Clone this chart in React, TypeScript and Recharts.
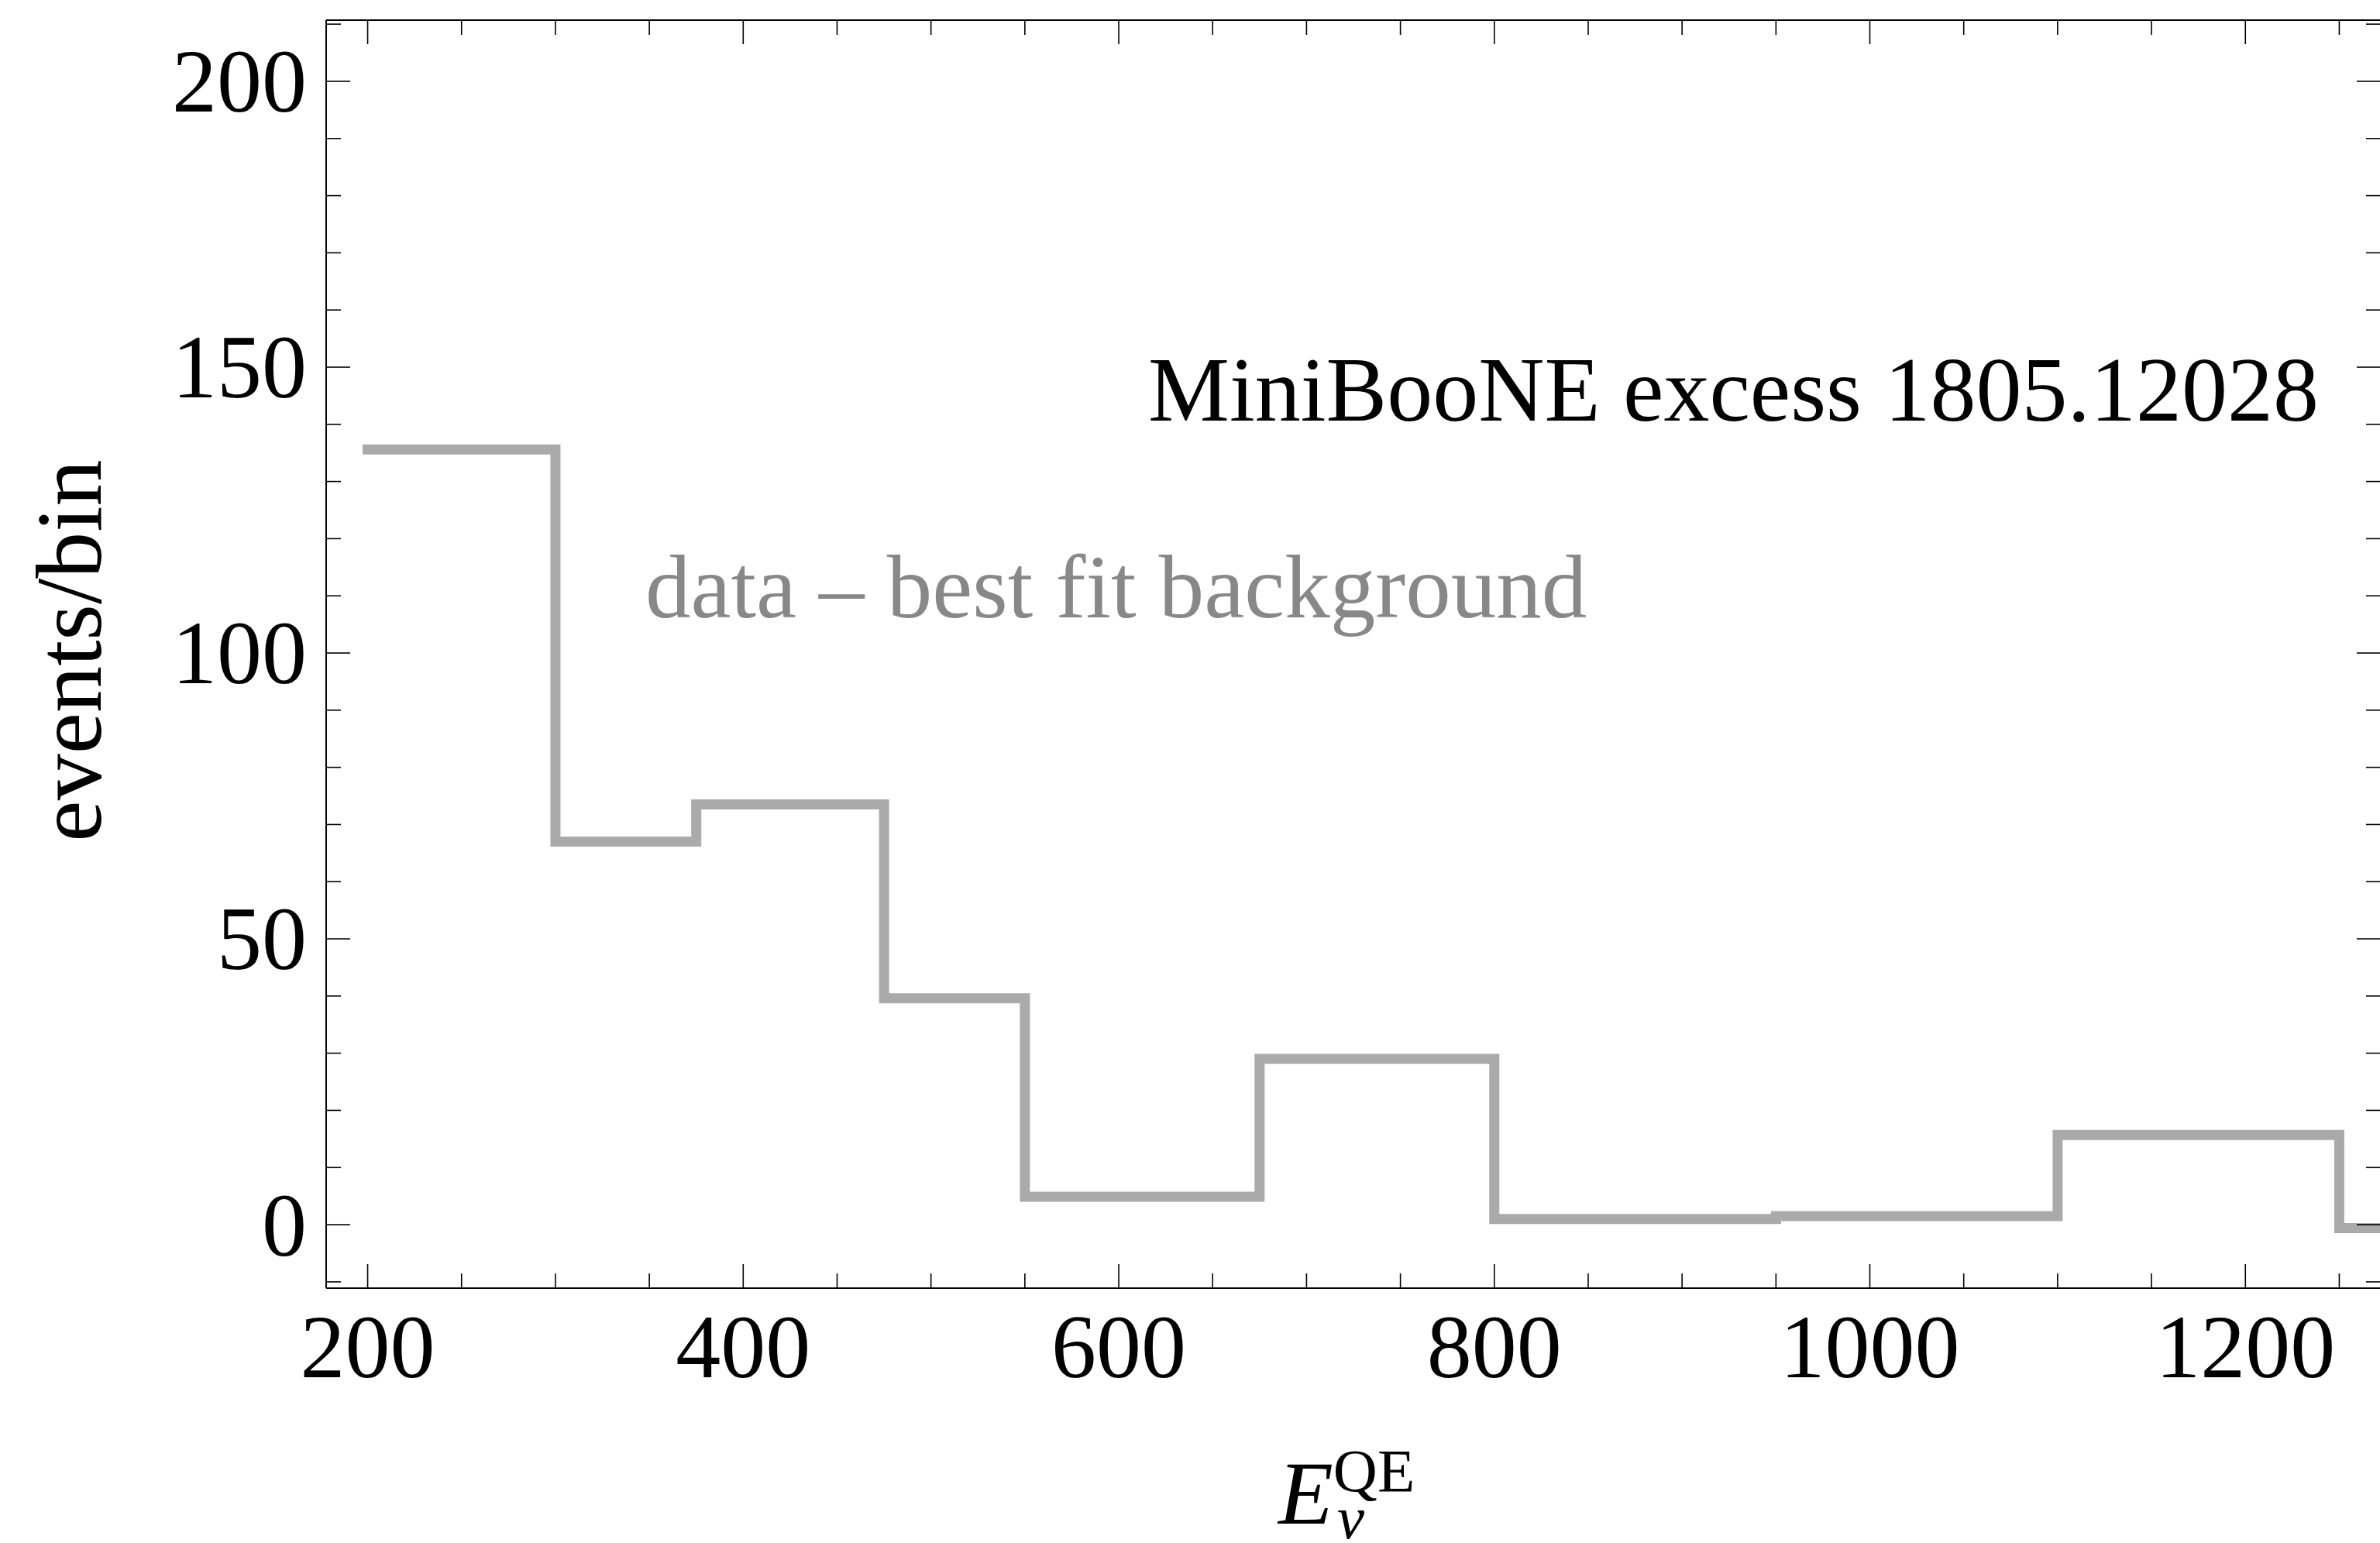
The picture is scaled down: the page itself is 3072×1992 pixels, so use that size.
import { Customized, Line, LineChart, XAxis, YAxis } from "recharts";

// MiniBooNE bin edges (MeV) and excess events per bin
const binEdges = [200, 300, 375, 475, 550, 675, 800, 950, 1100, 1250, 1500];
const excessEvents = [135.6, 67, 73.5, 39.6, 4.9, 29, 1, 1.5, 15.7, -0.6];

const xTicks = [200, 250, 300, 350, 400, 450, 500, 550, 600, 650, 700, 750, 800, 850, 900, 950, 1000, 1050, 1100, 1150, 1200, 1250];
const xLabelTicks = [200, 400, 600, 800, 1000, 1200];
const yTicks = [-10, 0, 10, 20, 30, 40, 50, 60, 70, 80, 90, 100, 110, 120, 130, 140, 150, 160, 170, 180, 190, 200, 210];
const yLabelTicks = [0, 50, 100, 150, 200];

const xDomain = [177.9, 1272.1];
const yDomain = [-11.1, 210.7];

const FONT = "'Liberation Serif', 'Times New Roman', serif";
const FS = 116;
const MAJOR = 31;
const MINOR = 19;

const stepData = binEdges.map((e, i) => ({
  e,
  v: excessEvents[Math.min(i, excessEvents.length - 1)],
}));

function BottomTick(props: any) {
  const { x, y, payload } = props;
  const major = xLabelTicks.includes(payload.value);
  return (
    <g>
      <line x1={x} x2={x} y1={y} y2={y - (major ? MAJOR : MINOR)} stroke="#000" strokeWidth={1.6} />
      {major && (
        <text x={x} y={y + 115} textAnchor="middle" fontFamily={FONT} fontSize={FS} fill="#000">
          {payload.value}
        </text>
      )}
    </g>
  );
}

function TopTick(props: any) {
  const { x, y, payload } = props;
  const major = xLabelTicks.includes(payload.value);
  return <line x1={x} x2={x} y1={y} y2={y + (major ? MAJOR : MINOR)} stroke="#000" strokeWidth={1.6} />;
}

function LeftTick(props: any) {
  const { x, y, payload } = props;
  const major = yLabelTicks.includes(payload.value);
  return (
    <g>
      <line x1={x} x2={x + (major ? MAJOR : MINOR)} y1={y} y2={y} stroke="#000" strokeWidth={1.6} />
      {major && (
        <text x={x - 25} y={y} dy="0.34em" textAnchor="end" fontFamily={FONT} fontSize={FS} fill="#000">
          {payload.value}
        </text>
      )}
    </g>
  );
}

function RightTick(props: any) {
  const { x, y, payload } = props;
  const major = yLabelTicks.includes(payload.value);
  return <line x1={x} x2={x - (major ? MAJOR : MINOR)} y1={y} y2={y} stroke="#000" strokeWidth={1.6} />;
}

function Annotations() {
  return (
    <g fontFamily={FONT}>
      <text x={2993} y={543} textAnchor="end" fontSize={118} fill="#000">
        MiniBooNE excess 1805.12028
      </text>
      <text x={833} y={797} fontSize={117} fill="#888888">
        data – best fit background
      </text>
      <text transform="translate(130,840) rotate(-90)" textAnchor="middle" fontSize={120} fill="#000">
        events/bin
      </text>
      <text x={1650} y={1967} fontSize={FS} fill="#000">
        <tspan fontStyle="italic">E</tspan>
        <tspan fontSize={79} dy={-42}>
          QE
        </tspan>
      </text>
      <text x={1726} y={1986} fontSize={79} fontStyle="italic" fill="#000">
        ν
      </text>
    </g>
  );
}

export default function App() {
  return (
    <div
      style={{
        position: "absolute",
        left: 0,
        top: 0,
        width: 3072,
        height: 1992,
        overflow: "hidden",
        background: "#fff",
      }}
    >
      <LineChart width={3075} height={1992} data={stepData} margin={{ top: 0, right: 0, bottom: 0, left: 0 }}>
        <XAxis
          xAxisId="bottom"
          dataKey="e"
          type="number"
          domain={xDomain}
          allowDataOverflow
          ticks={xTicks}
          interval={0}
          height={329}
          tickSize={0}
          tickMargin={0}
          tickLine={false}
          axisLine={{ stroke: "#000", strokeWidth: 2 }}
          tick={BottomTick}
        />
        <XAxis
          xAxisId="top"
          orientation="top"
          dataKey="e"
          type="number"
          domain={xDomain}
          allowDataOverflow
          ticks={xTicks}
          interval={0}
          height={26}
          tickSize={0}
          tickMargin={0}
          tickLine={false}
          axisLine={{ stroke: "#000", strokeWidth: 2 }}
          tick={TopTick}
        />
        <YAxis
          yAxisId="left"
          type="number"
          domain={yDomain}
          allowDataOverflow
          ticks={yTicks}
          interval={0}
          width={421}
          tickSize={0}
          tickMargin={0}
          tickLine={false}
          axisLine={{ stroke: "#000", strokeWidth: 2 }}
          tick={LeftTick}
        />
        <YAxis
          yAxisId="right"
          orientation="right"
          type="number"
          domain={yDomain}
          allowDataOverflow
          ticks={yTicks}
          interval={0}
          width={2}
          tickSize={0}
          tickMargin={0}
          tickLine={false}
          axisLine={{ stroke: "#000", strokeWidth: 2 }}
          tick={RightTick}
        />
        <Line
          xAxisId="bottom"
          yAxisId="left"
          type="stepAfter"
          dataKey="v"
          stroke="#aaaaaa"
          strokeWidth={13}
          strokeLinecap="square"
          strokeLinejoin="miter"
          dot={false}
          activeDot={false}
          isAnimationActive={false}
        />
        <Customized component={Annotations} />
      </LineChart>
    </div>
  );
}
